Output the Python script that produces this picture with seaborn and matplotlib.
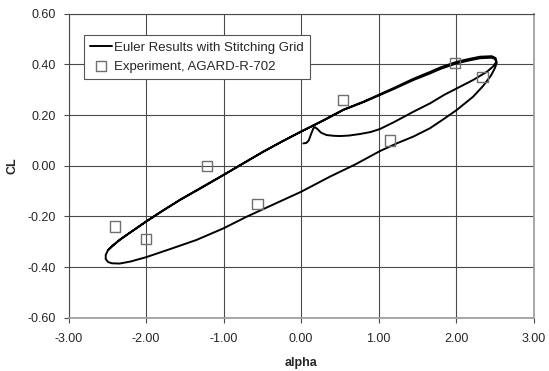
import numpy as np
import pandas as pd
import matplotlib
matplotlib.use("Agg")
import matplotlib.pyplot as plt
import seaborn as sns

# Euler run, CL vs alpha (in drawing order)
euler_alpha = [0.03, 0.07, 0.10, 0.13, 0.16, 0.18, 0.21, 0.26, 0.33, 0.42, 0.50, 0.62, 0.76, 0.90,
               1.02, 1.20, 1.45, 1.665, 1.85, 2.01, 2.22, 2.40, 2.48, 2.52, 2.50, 2.46, 2.31,
               2.15, 2.01, 1.80, 1.665, 1.45, 1.20, 1.02, 0.80, 0.546, 0.30, 0.0, -0.25, -0.486,
               -0.75, -1.0, -1.30, -1.56, -1.80, -2.0, -2.20, -2.34, -2.44, -2.49, -2.52, -2.52,
               -2.49, -2.44, -2.34, -2.20, -2.0,
               -1.70, -1.35, -1.0, -0.70, -0.35, 0.0, 0.374, 0.70, 1.02, 1.25, 1.45, 1.665, 1.85,
               2.01, 2.22, 2.35, 2.45, 2.50, 2.525, 2.51, 2.46, 2.31,
               2.15, 2.01, 1.80, 1.665, 1.45, 1.20, 1.02, 0.80, 0.546, 0.30, 0.0, -0.486, -1.0,
               -1.56, -2.0, -2.34, -2.49]
euler_cl = [0.088, 0.09, 0.10, 0.125, 0.148, 0.152, 0.145, 0.13, 0.121, 0.118, 0.117, 0.119, 0.125, 0.133,
            0.145, 0.172, 0.213, 0.246, 0.28, 0.305, 0.338, 0.371, 0.392, 0.41, 0.422, 0.426, 0.424,
            0.414, 0.404, 0.382, 0.364, 0.338, 0.303, 0.279, 0.25, 0.22, 0.18, 0.134, 0.095, 0.055,
            0.008, -0.037, -0.09, -0.135, -0.18, -0.221, -0.263, -0.293, -0.317, -0.333, -0.352, -0.368,
            -0.38, -0.385, -0.386, -0.378, -0.361,
            -0.33, -0.293, -0.247, -0.201, -0.152, -0.103, -0.043, 0.005, 0.058, 0.09, 0.115, 0.148, 0.186,
            0.22, 0.272, 0.315, 0.355, 0.384, 0.405, 0.425, 0.432, 0.43,
            0.42, 0.41, 0.388, 0.37, 0.343, 0.307, 0.282, 0.252, 0.221, 0.181, 0.135, 0.056, -0.036,
            -0.134, -0.22, -0.292, -0.333]

# AGARD-R-702 experiment
exp_alpha = [-2.40, -2.00, -1.21, -0.56, 0.54, 1.15, 1.99, 2.34]
exp_cl = [-0.24, -0.29, 0.00, -0.15, 0.26, 0.10, 0.405, 0.35]

euler = pd.DataFrame({"alpha": euler_alpha, "CL": euler_cl})
euler["step"] = np.arange(len(euler))
expt = pd.DataFrame({"alpha": exp_alpha, "CL": exp_cl})

sns.set_style("white")
plt.rcParams["font.family"] = ["Liberation Sans", "DejaVu Sans"]

fig = plt.figure(figsize=(5.49, 3.71), dpi=100)
ax = fig.add_axes([0.1248, 0.1434, 0.847, 0.8199])

sns.lineplot(data=euler, x="alpha", y="CL", sort=False, estimator=None, color="black",
             lw=1.4, ax=ax, label="Euler Results with Stitching Grid")
sns.scatterplot(data=expt, x="alpha", y="CL", marker="s", s=55, facecolor="none",
                edgecolor="#707070", linewidth=1.0, ax=ax, label="Experiment, AGARD-R-702", zorder=3)

ax.set_xlim(-3, 3)
ax.set_ylim(-0.6, 0.6)
ax.set_xticks(np.arange(-3, 3.01, 1.0))
ax.set_yticks(np.arange(-0.6, 0.61, 0.2))
ax.xaxis.set_major_formatter(matplotlib.ticker.FormatStrFormatter("%.2f"))
ax.yaxis.set_major_formatter(matplotlib.ticker.FormatStrFormatter("%.2f"))
ax.grid(True, color="#4a4a4a", lw=0.8)
ax.tick_params(axis="both", direction="out", length=3.6, width=0.8, color="#4a4a4a",
               labelsize=9, bottom=True, left=True)
ax.tick_params(axis="x", pad=7)
ax.tick_params(axis="y", pad=5.5)
ax.spines["left"].set_color("#4a4a4a")
ax.spines["left"].set_linewidth(0.8)
for side in ("bottom", "right"):
    ax.spines[side].set_color("#a0a0a0")
    ax.spines[side].set_linewidth(1.3)
ax.spines["top"].set_color("#4a4a4a")
ax.spines["top"].set_linewidth(0.8)

ax.set_xlabel("alpha", fontsize=9, fontweight="bold", labelpad=9)
ax.set_ylabel("CL", fontsize=9, fontweight="bold", labelpad=6.5)

leg = ax.legend(loc="upper left", bbox_to_anchor=(0.033, 0.93), borderaxespad=0, fancybox=False,
                framealpha=1, edgecolor="#555555", fontsize=9.5, handlelength=1.6, handletextpad=0.15,
                borderpad=0.5, labelspacing=0.5)
leg.get_frame().set_linewidth(0.8)

fig.savefig("out.png", dpi=100)
